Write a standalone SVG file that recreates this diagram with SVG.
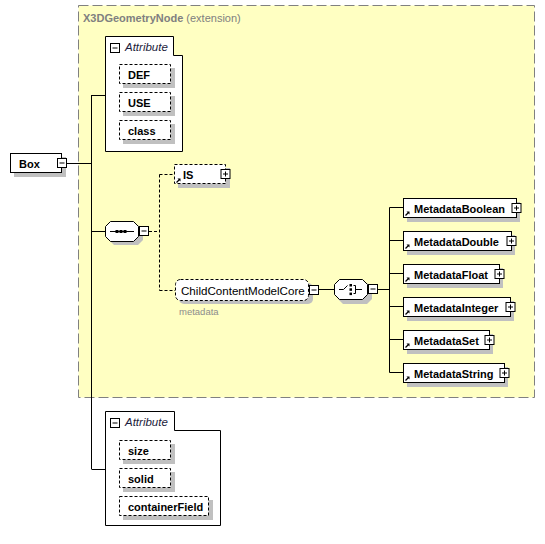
<svg xmlns="http://www.w3.org/2000/svg" width="545" height="544" viewBox="0 0 545 544">
<style>
.t{font-family:"Liberation Sans",Arial,sans-serif;font-size:11px;fill:#000}
.b{font-weight:bold}
.ln{stroke:#000;stroke-width:1;fill:none}
.dl{stroke:#000;stroke-width:1;fill:none;stroke-dasharray:3,2}
.box{fill:#fff;stroke:#000;stroke-width:1}
.dbox{fill:#fff;stroke:#000;stroke-width:1;stroke-dasharray:3,2}
.sh{fill:#c0c0c0}
.pm{fill:#fff;stroke:#000;stroke-width:1}
.grp{fill:#fff;stroke:#000;stroke-width:1}
</style>
<defs>
<g id="minus"><rect class="pm" x="0" y="0" width="9" height="9"/><path class="ln" d="M2,4.5H7"/></g>
<g id="plus"><rect class="pm" x="0" y="0" width="9" height="9"/><path class="ln" d="M2,4.5H7M4.5,2V7"/></g>
<g id="ref"><path d="M0.5,4.5L3.5,1.5" stroke="#000" stroke-width="1.2"/><path d="M1.5,0.5H4.5V3.5Z" fill="#000"/></g>
</defs>

<!-- extension area -->
<g id="ext">
<rect x="78.5" y="5.5" width="456" height="392" fill="#ffffc2" stroke="#808080" stroke-dasharray="10,4"/>
<text x="83" y="22" class="t" fill="#808080" style="fill:#808080"><tspan font-weight="bold">X3DGeometryNode</tspan> (extension)</text>
</g>

<!-- connectors -->
<g id="connectors">
<path class="ln" d="M91.5,95V469"/>
<path class="ln" d="M66,163.5H91.5"/>
<path class="ln" d="M91.5,95.5H105"/>
<path class="ln" d="M91.5,231.5H105"/>
<path class="ln" d="M91.5,469.5H105"/>
<path class="dl" d="M149,231.5H159.5"/>
<path class="dl" d="M159.5,174.5V290.5"/>
<path class="dl" d="M159.5,174.5H174"/>
<path class="dl" d="M159.5,290.5H175"/>
<path class="ln" d="M319,289.5H334"/>
<path class="ln" d="M378,289.5H389.5"/>
<path class="ln" d="M389.5,207.5V372.5"/>
<path class="ln" d="M389.5,207.5H403M389.5,240.5H403M389.5,273.5H403M389.5,306.5H403M389.5,339.5H403M389.5,372.5H403"/>
</g>

<!-- Box -->
<g id="node-Box">
<rect class="sh" x="14" y="157" width="52" height="20"/>
<rect class="box" x="10.5" y="153.5" width="51" height="19"/>
<text x="19" y="167.5" class="t b">Box</text>
<use href="#minus" x="57.5" y="158.5"/>
</g>

<!-- Attribute group 1 -->
<g id="node-attrs1">
<path class="grp" d="M105.5,36.5H173.5V55.5H182.5V151.5H105.5Z"/>
<use href="#minus" x="110.5" y="43.5"/>
<text x="125" y="51" class="t" style="font-style:italic;font-size:11.5px;fill:#1c1c3c">Attribute</text>
</g>
<g id="node-DEF">
<rect class="sh" x="123" y="68" width="52" height="20"/>
<rect class="dbox" x="119.5" y="64.5" width="51" height="19"/>
<text x="128" y="78.5" class="t b">DEF</text>
</g>
<g id="node-USE">
<rect class="sh" x="123" y="96" width="52" height="20"/>
<rect class="dbox" x="119.5" y="92.5" width="51" height="19"/>
<text x="128" y="106.5" class="t b">USE</text>
</g>
<g id="node-class">
<rect class="sh" x="123" y="124" width="52" height="20"/>
<rect class="dbox" x="119.5" y="120.5" width="51" height="19"/>
<text x="128" y="134.5" class="t b">class</text>
</g>

<!-- sequence -->
<g id="node-sequence">
<path class="sh" d="M114,225H138L143,230V240L138,245H114L109,240V230Z"/>
<path class="box" d="M110.5,221.5H133.5L138.5,226.5V236.5L133.5,241.5H110.5L105.5,236.5V226.5Z"/>
<path class="ln" d="M110,231.5H134"/>
<rect x="115.5" y="230" width="3" height="3" fill="#000"/>
<rect x="119.5" y="230" width="3" height="3" fill="#000"/>
<rect x="123.5" y="230" width="3" height="3" fill="#000"/>
<use href="#minus" x="139.5" y="226.5"/>
</g>

<!-- IS -->
<g id="node-IS">
<rect class="sh" x="178" y="168" width="52" height="20"/>
<rect class="dbox" x="174.5" y="164.5" width="51" height="19"/>
<use href="#ref" x="176" y="178"/>
<text x="183" y="178.5" class="t b">IS</text>
<use href="#plus" x="221" y="169.5"/>
</g>

<!-- ChildContentModelCore -->
<g id="node-ChildContentModelCore">
<rect class="sh" x="179" y="283" width="134" height="21" rx="5"/>
<rect class="dbox" x="175.5" y="279.5" width="133" height="21" rx="5"/>
<text x="181" y="294.5" class="t" style="font-size:11.6px">ChildContentModelCore</text>
<use href="#minus" x="309.5" y="285.5"/>
<text x="179" y="315" class="t" style="font-size:9.5px;fill:#8c8c8c">metadata</text>
</g>

<!-- choice -->
<g id="node-choice">
<path class="sh" d="M343,283H367L372,288V299L367,304H343L338,299V288Z"/>
<path class="box" d="M339.5,279.5H362.5L367.5,284.5V294.5L362.5,299.5H339.5L334.5,294.5V284.5Z"/>
<path class="ln" d="M339,289.5H343.5L347.5,285.5"/>
<rect x="349.5" y="284" width="2.5" height="2.5" fill="#000"/>
<rect x="349.5" y="288.3" width="2.5" height="2.5" fill="#000"/>
<rect x="349.5" y="292.6" width="2.5" height="2.5" fill="#000"/>
<path class="ln" d="M353.5,285.5H355.5V293.5H353.5M355.5,289.5H362"/>
<use href="#minus" x="368.5" y="284.5"/>
</g>

<!-- Metadata elements -->
<g id="node-MetadataBoolean">
<rect class="sh" x="407" y="202" width="113" height="20"/>
<rect class="box" x="403.5" y="198.5" width="113" height="19"/>
<use href="#ref" x="405" y="211"/>
<text x="414" y="212.5" class="t b">MetadataBoolean</text>
<use href="#plus" x="512" y="203.5"/>
</g>
<g id="node-MetadataDouble">
<rect class="sh" x="407" y="235" width="108" height="20"/>
<rect class="box" x="403.5" y="231.5" width="108" height="19"/>
<use href="#ref" x="405" y="244"/>
<text x="414" y="245.5" class="t b">MetadataDouble</text>
<use href="#plus" x="507" y="236.5"/>
</g>
<g id="node-MetadataFloat">
<rect class="sh" x="407" y="268" width="96" height="20"/>
<rect class="box" x="403.5" y="264.5" width="96" height="19"/>
<use href="#ref" x="405" y="277"/>
<text x="414" y="278.5" class="t b">MetadataFloat</text>
<use href="#plus" x="495" y="269.5"/>
</g>
<g id="node-MetadataInteger">
<rect class="sh" x="407" y="301" width="107" height="20"/>
<rect class="box" x="403.5" y="297.5" width="107" height="19"/>
<use href="#ref" x="405" y="310"/>
<text x="414" y="311.5" class="t b">MetadataInteger</text>
<use href="#plus" x="506" y="302.5"/>
</g>
<g id="node-MetadataSet">
<rect class="sh" x="407" y="334" width="86" height="20"/>
<rect class="box" x="403.5" y="330.5" width="86" height="19"/>
<use href="#ref" x="405" y="343"/>
<text x="414" y="344.5" class="t b">MetadataSet</text>
<use href="#plus" x="485" y="335.5"/>
</g>
<g id="node-MetadataString">
<rect class="sh" x="407" y="367" width="101" height="20"/>
<rect class="box" x="403.5" y="363.5" width="101" height="19"/>
<use href="#ref" x="405" y="376"/>
<text x="414" y="377.5" class="t b">MetadataString</text>
<use href="#plus" x="500" y="368.5"/>
</g>

<!-- Attribute group 2 -->
<g id="node-attrs2">
<path class="grp" d="M105.5,411.5H174.5V430.5H220.5V525.5H105.5Z"/>
<use href="#minus" x="110.5" y="418.5"/>
<text x="125" y="426" class="t" style="font-style:italic;font-size:11.5px;fill:#1c1c3c">Attribute</text>
</g>
<g id="node-size">
<rect class="sh" x="123" y="444" width="52" height="20"/>
<rect class="dbox" x="119.5" y="440.5" width="51" height="19"/>
<text x="128" y="454.5" class="t b">size</text>
</g>
<g id="node-solid">
<rect class="sh" x="123" y="472" width="52" height="20"/>
<rect class="dbox" x="119.5" y="468.5" width="51" height="19"/>
<text x="128" y="482.5" class="t b">solid</text>
</g>
<g id="node-containerField">
<rect class="sh" x="123" y="500" width="90" height="20"/>
<rect class="dbox" x="119.5" y="496.5" width="89" height="19"/>
<text x="128" y="510.5" class="t b">containerField</text>
</g>
</svg>
